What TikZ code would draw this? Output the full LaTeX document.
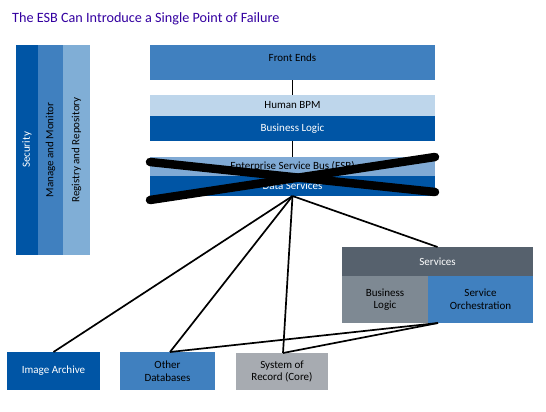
\documentclass[tikz,border=0pt]{standalone}
\usepackage{fontspec}
\setmainfont{Carlito}
\definecolor{dblue}{HTML}{0055A5}
\definecolor{mblue}{HTML}{4080BF}
\definecolor{lblue}{HTML}{80AED6}
\definecolor{esbblue}{HTML}{80AAD5}
\definecolor{bpmblue}{HTML}{BED6EB}
\definecolor{svgray}{HTML}{56616D}
\definecolor{blgray}{HTML}{7E8993}
\definecolor{srgray}{HTML}{A7ABB1}
\definecolor{titlec}{RGB}{51,0,160}
\begin{document}
\begin{tikzpicture}[x=1pt,y=-1pt,
  box/.style={inner sep=0pt,outer sep=0pt,font=\fontsize{11}{12.5}\selectfont,align=center},
  conn/.style={line width=1.7pt,black},
  cross/.style={line width=8.5pt,line cap=round,black}]
\useasboundingbox (0,0) rectangle (546,412);
\node[anchor=west,text=titlec,font=\fontsize{14.2}{16}\selectfont,inner sep=0pt] (title) at (12,19) {The ESB Can Introduce a Single Point of Failure};
% left panels
\fill[dblue] (16,45) rectangle (38,255);
\fill[mblue] (38,45) rectangle (63,255);
\fill[lblue] (63,45) rectangle (90,255);
\node[box,rotate=90,text=white] (sec) at (27,150) {Security};
\node[box,rotate=90] (mm) at (50.5,150) {Manage and Monitor};
\node[box,rotate=90] (rr) at (76.5,150) {Registry and Repository};
% main stack
\node[box,fill=mblue,minimum width=285pt,minimum height=35pt] (fe) at (292.5,62.5) {};
\node[box] (fet) at (292.5,58) {Front Ends};
\node[box,fill=bpmblue,minimum width=285pt,minimum height=21pt] (bpm) at (292.5,105.5) {Human BPM};
\node[box,fill=dblue,text=white,minimum width=285pt,minimum height=25pt] (bl) at (292.5,128.5) {Business Logic};
\node[box,fill=esbblue,minimum width=285pt,minimum height=19pt] (esb) at (292.5,166.5) {Enterprise Service Bus (ESB)};
\node[box,fill=dblue,text=white,minimum width=285pt,minimum height=20pt] (ds) at (292.5,186) {Data Services};
\draw[conn] (fe.south) -- (bpm.north);
\draw[conn] (bl.south) -- (esb.north);
% services group
\node[box,fill=svgray,text=white,minimum width=191pt,minimum height=29pt] (sv) at (437.5,261.5) {Services};
\node[box,fill=blgray,minimum width=86pt,minimum height=47pt] (sbl) at (385,299.5) {Business\\Logic};
\node[box,fill=mblue,minimum width=105pt,minimum height=47pt] (so) at (480.5,299.5) {Service\\Orchestration};
% bottom
\node[box,fill=dblue,text=white,minimum width=93pt,minimum height=38pt] (ia) at (53.5,371) {Image Archive};
\node[box,fill=mblue,minimum width=95pt,minimum height=38pt] (od) at (167.5,371) {Other\\Databases};
\node[box,fill=srgray,minimum width=92pt,minimum height=37pt] (sr) at (282,371.5) {System of\\Record (Core)};
% connectors
\coordinate (hub) at (ds.south);
\draw[conn] (hub) -- (ia.north);
\draw[conn] (hub) -- ([xshift=2.5pt]od.north);
\draw[conn] (hub) -- ([xshift=1pt]sr.north);
\draw[conn] (hub) -- (sv.north);
\coordinate (soc) at ([xshift=10pt]so.south west);
\draw[conn] (soc) -- ([xshift=2.5pt]od.north);
\draw[conn] (soc) -- ([xshift=1pt]sr.north);
% cross
\coordinate (x1) at (150,162);
\coordinate (x2) at (435,192);
\coordinate (x3) at (150,200);
\coordinate (x4) at (435,157);
\draw[cross] (x1) -- (x2);
\draw[cross] (x3) -- (x4);
\end{tikzpicture}
\end{document}
